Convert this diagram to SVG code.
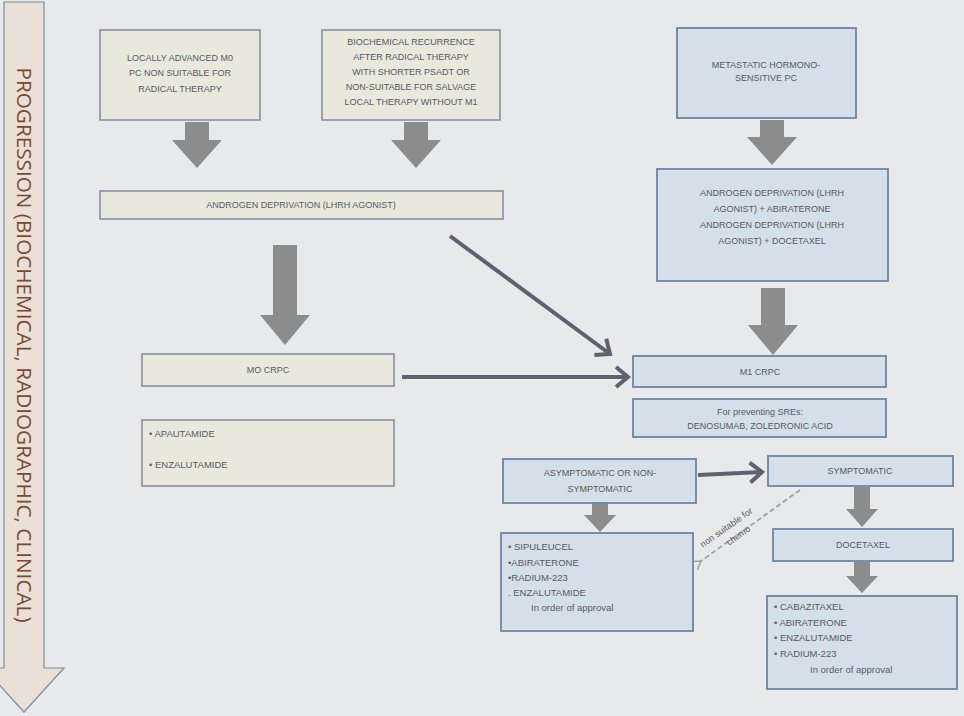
<svg xmlns="http://www.w3.org/2000/svg" width="964" height="716" viewBox="0 0 964 716">
<defs>
<style>
.bg{fill:#e7e9eb}
.be{fill:#e9e8dd;stroke:#7d8aa0;stroke-width:1.5}
.bl{fill:#d5dfe9;stroke:#6d84a6;stroke-width:1.8}
.t{font-family:"Liberation Sans",sans-serif;font-size:9px;fill:#555a62;text-anchor:middle}
.tl{font-family:"Liberation Sans",sans-serif;font-size:9.5px;fill:#555a62}
.ga{fill:#8c8c8c}
.ln{stroke:#5d6270;stroke-width:4;fill:none;stroke-linejoin:round}
</style>
<marker id="ah" markerWidth="30" markerHeight="30" refX="14" refY="12" orient="auto" markerUnits="userSpaceOnUse"><path d="M2,2 L14,12 L2,22" fill="none" stroke="#5d6270" stroke-width="4"/></marker>
<marker id="dh" markerWidth="12" markerHeight="12" refX="2" refY="6" orient="auto" markerUnits="userSpaceOnUse"><path d="M10,1 L2,6 L10,11" fill="none" stroke="#9aa0a8" stroke-width="1.5"/></marker>
</defs>
<rect class="bg" width="964" height="716"/>
<g id="progression">
<path d="M4,2 H44 V668 H64 L24,712 L-16,668 H4 Z" fill="#ebe0d8" stroke="#7d8aa0" stroke-width="1.2"/>
<text transform="translate(17,345) rotate(90)" font-family="'Open Sans','Liberation Sans',sans-serif" font-size="19.5" fill="#7a4a30" text-anchor="middle" textLength="555" lengthAdjust="spacingAndGlyphs">PROGRESSION (BIOCHEMICAL, RADIOGRAPHIC, CLINICAL)</text>
</g>
<g id="connectors">
<path class="ga" d="M185,122 H209 V140 H222 L197,168 L172,140 H185 Z"/>
<path class="ga" d="M404,122 H428 V140 H441 L416,168 L391,140 H404 Z"/>
<path class="ga" d="M760,120 H784 V137 H797 L772,165 L747,137 H760 Z"/>
<path class="ga" d="M273,245 H297 V315 H310 L285,345 L260,315 H273 Z"/>
<path class="ga" d="M761,288 H785 V325 H798 L773,355 L748,325 H761 Z"/>
<path class="ga" d="M592,503 H608 V515 H616 L600,532 L584,515 H592 Z"/>
<path class="ga" d="M854,487 H870 V509 H878 L862,527 L846,509 H854 Z"/>
<path class="ga" d="M854,562 H870 V576 H878 L862,593 L846,576 H854 Z"/>
<line class="ln" x1="450" y1="236" x2="610" y2="354" marker-end="url(#ah)"/>
<line class="ln" x1="402" y1="377" x2="628" y2="377" marker-end="url(#ah)"/>
<line class="ln" x1="698" y1="475" x2="762" y2="472" marker-end="url(#ah)"/>
<line x1="800" y1="490" x2="701" y2="561" stroke="#9aa0a8" stroke-width="1.8" stroke-dasharray="5,3" marker-end="url(#dh)"/>
<text transform="translate(728,530) rotate(-35)" class="t" font-size="7">non suitable for</text>
<text transform="translate(740,538) rotate(-35)" class="t" font-size="7">chemo</text>
</g>
<g id="locally-advanced"><rect class="be" x="100" y="30" width="160" height="90"/>
<text class="t"><tspan x="180" y="61">LOCALLY ADVANCED M0</tspan><tspan x="180" y="76">PC NON SUITABLE FOR</tspan><tspan x="180" y="92">RADICAL THERAPY</tspan></text></g>
<g id="biochemical"><rect class="be" x="322" y="30" width="178" height="90"/>
<text class="t"><tspan x="411" y="45">BIOCHEMICAL RECURRENCE</tspan><tspan x="411" y="60">AFTER RADICAL THERAPY</tspan><tspan x="411" y="75">WITH SHORTER PSADT OR</tspan><tspan x="411" y="90">NON-SUITABLE FOR SALVAGE</tspan><tspan x="411" y="105">LOCAL THERAPY WITHOUT M1</tspan></text></g>
<g id="metastatic"><rect class="bl" x="677" y="28" width="179" height="90"/>
<text class="t"><tspan x="766" y="68">METASTATIC HORMONO-</tspan><tspan x="766" y="81">SENSITIVE PC</tspan></text></g>
<g id="adt"><rect class="be" x="100" y="191" width="403" height="28"/>
<text class="t" x="301" y="208">ANDROGEN DEPRIVATION (LHRH AGONIST)</text></g>
<g id="adt-combo"><rect class="bl" x="657" y="169" width="231" height="112"/>
<text class="t"><tspan x="772" y="196">ANDROGEN DEPRIVATION (LHRH</tspan><tspan x="772" y="212">AGONIST) + ABIRATERONE</tspan><tspan x="772" y="228">ANDROGEN DEPRIVATION (LHRH</tspan><tspan x="772" y="244">AGONIST) + DOCETAXEL</tspan></text></g>
<g id="m0crpc"><rect class="be" x="142" y="354" width="252" height="32"/>
<text class="t" x="268" y="373">MO CRPC</text></g>
<g id="m0-drugs"><rect class="be" x="142" y="420" width="252" height="66"/>
<text class="tl" font-size="9"><tspan x="149" y="437">• APAUTAMIDE</tspan><tspan x="149" y="468">• ENZALUTAMIDE</tspan></text></g>
<g id="m1crpc"><rect class="bl" x="633" y="356" width="253" height="31"/>
<text class="t" x="760" y="375">M1 CRPC</text></g>
<g id="sres"><rect class="bl" x="633" y="399" width="253" height="38"/>
<text class="t" font-size="9.5"><tspan x="760" y="415">For preventing SREs:</tspan><tspan x="760" y="429">DENOSUMAB, ZOLEDRONIC ACID</tspan></text></g>
<g id="asymptomatic"><rect class="bl" x="503" y="459" width="193" height="44"/>
<text class="t"><tspan x="600" y="476">ASYMPTOMATIC OR NON-</tspan><tspan x="600" y="492">SYMPTOMATIC</tspan></text></g>
<g id="symptomatic"><rect class="bl" x="768" y="456" width="185" height="30"/>
<text class="t" x="860" y="474">SYMPTOMATIC</text></g>
<g id="docetaxel"><rect class="bl" x="773" y="529" width="180" height="32"/>
<text class="t" x="863" y="548">DOCETAXEL</text></g>
<g id="asym-drugs"><rect class="bl" x="501" y="533" width="192" height="98"/>
<text class="tl"><tspan x="508" y="550">• SIPULEUCEL</tspan><tspan x="508" y="566">•ABIRATERONE</tspan><tspan x="508" y="581">•RADIUM-223</tspan><tspan x="508" y="596">. ENZALUTAMIDE</tspan><tspan x="531" y="611">In order of approval</tspan></text></g>
<g id="sym-drugs"><rect class="bl" x="767" y="596" width="190" height="93"/>
<text class="tl"><tspan x="774" y="610">• CABAZITAXEL</tspan><tspan x="774" y="626">• ABIRATERONE</tspan><tspan x="774" y="641">• ENZALUTAMIDE</tspan><tspan x="774" y="657">• RADIUM-223</tspan><tspan x="810" y="673">In order of approval</tspan></text></g>
</svg>
